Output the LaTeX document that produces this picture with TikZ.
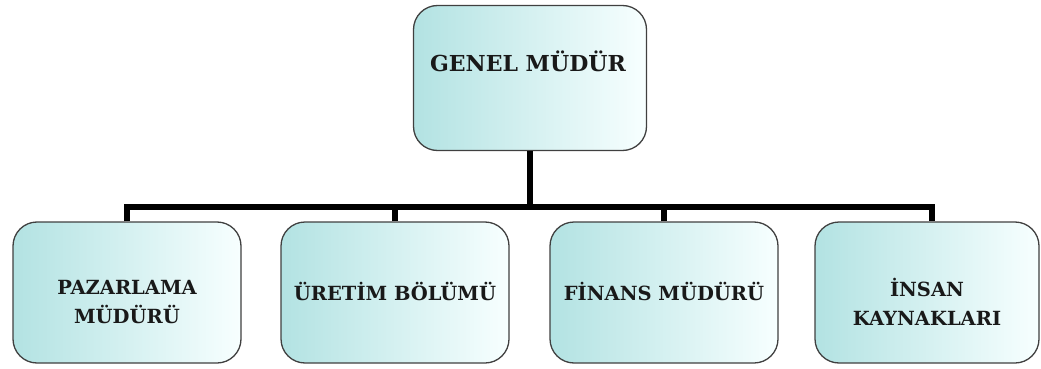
\documentclass[tikz,border=0pt]{standalone}
\usepackage{fontspec}
\newfontfamily\boxfont{DejaVu Serif}
\begin{document}
\begin{tikzpicture}[x=1pt,y=-1pt,
  orgbox/.style={draw=black!75, line width=1.3pt, rounded corners=24pt,
    left color=cyan!25!teal!30!white, right color=cyan!3!white,
    minimum width=228pt, minimum height=141pt},
  boxtext/.style={align=center, text=black!90,
    font=\boxfont\bfseries\fontsize{19.5}{28.5}\selectfont},
  link/.style={line width=5.5pt, line join=miter, draw=black}]
\useasboundingbox (0,0) rectangle (1041,369);
\node[orgbox, minimum width=233pt, minimum height=145pt] (top) at (530,78) {};
\node[boxtext, font=\boxfont\bfseries\fontsize{22}{26}\selectfont] (toptext) at (528,61) {GENEL MÜDÜR};
\node[orgbox] (b1) at (127,292.5) {};
\node[orgbox] (b2) at (395,292.5) {};
\node[orgbox] (b3) at (664,292.5) {};
\node[orgbox, minimum width=224pt] (b4) at (927,292.5) {};
\node[boxtext] (t1) at (127,302) {PAZARLAMA\\MÜDÜRÜ};
\node[boxtext] (t2) at (395,291) {ÜRETİM BÖLÜMÜ};
\node[boxtext] (t3) at (664,291) {FİNANS MÜDÜRÜ};
\node[boxtext] (t4) at (927,302) {İNSAN\\KAYNAKLARI};
\coordinate (bus) at (530,207);
\draw[link] (top.south) -- (bus);
\draw[link] (b1.north) |- (bus) -| ([xshift=5pt]b4.north);
\draw[link] (b2.north) -- (b2.north |- bus);
\draw[link] (b3.north) -- (b3.north |- bus);
\end{tikzpicture}
\end{document}
